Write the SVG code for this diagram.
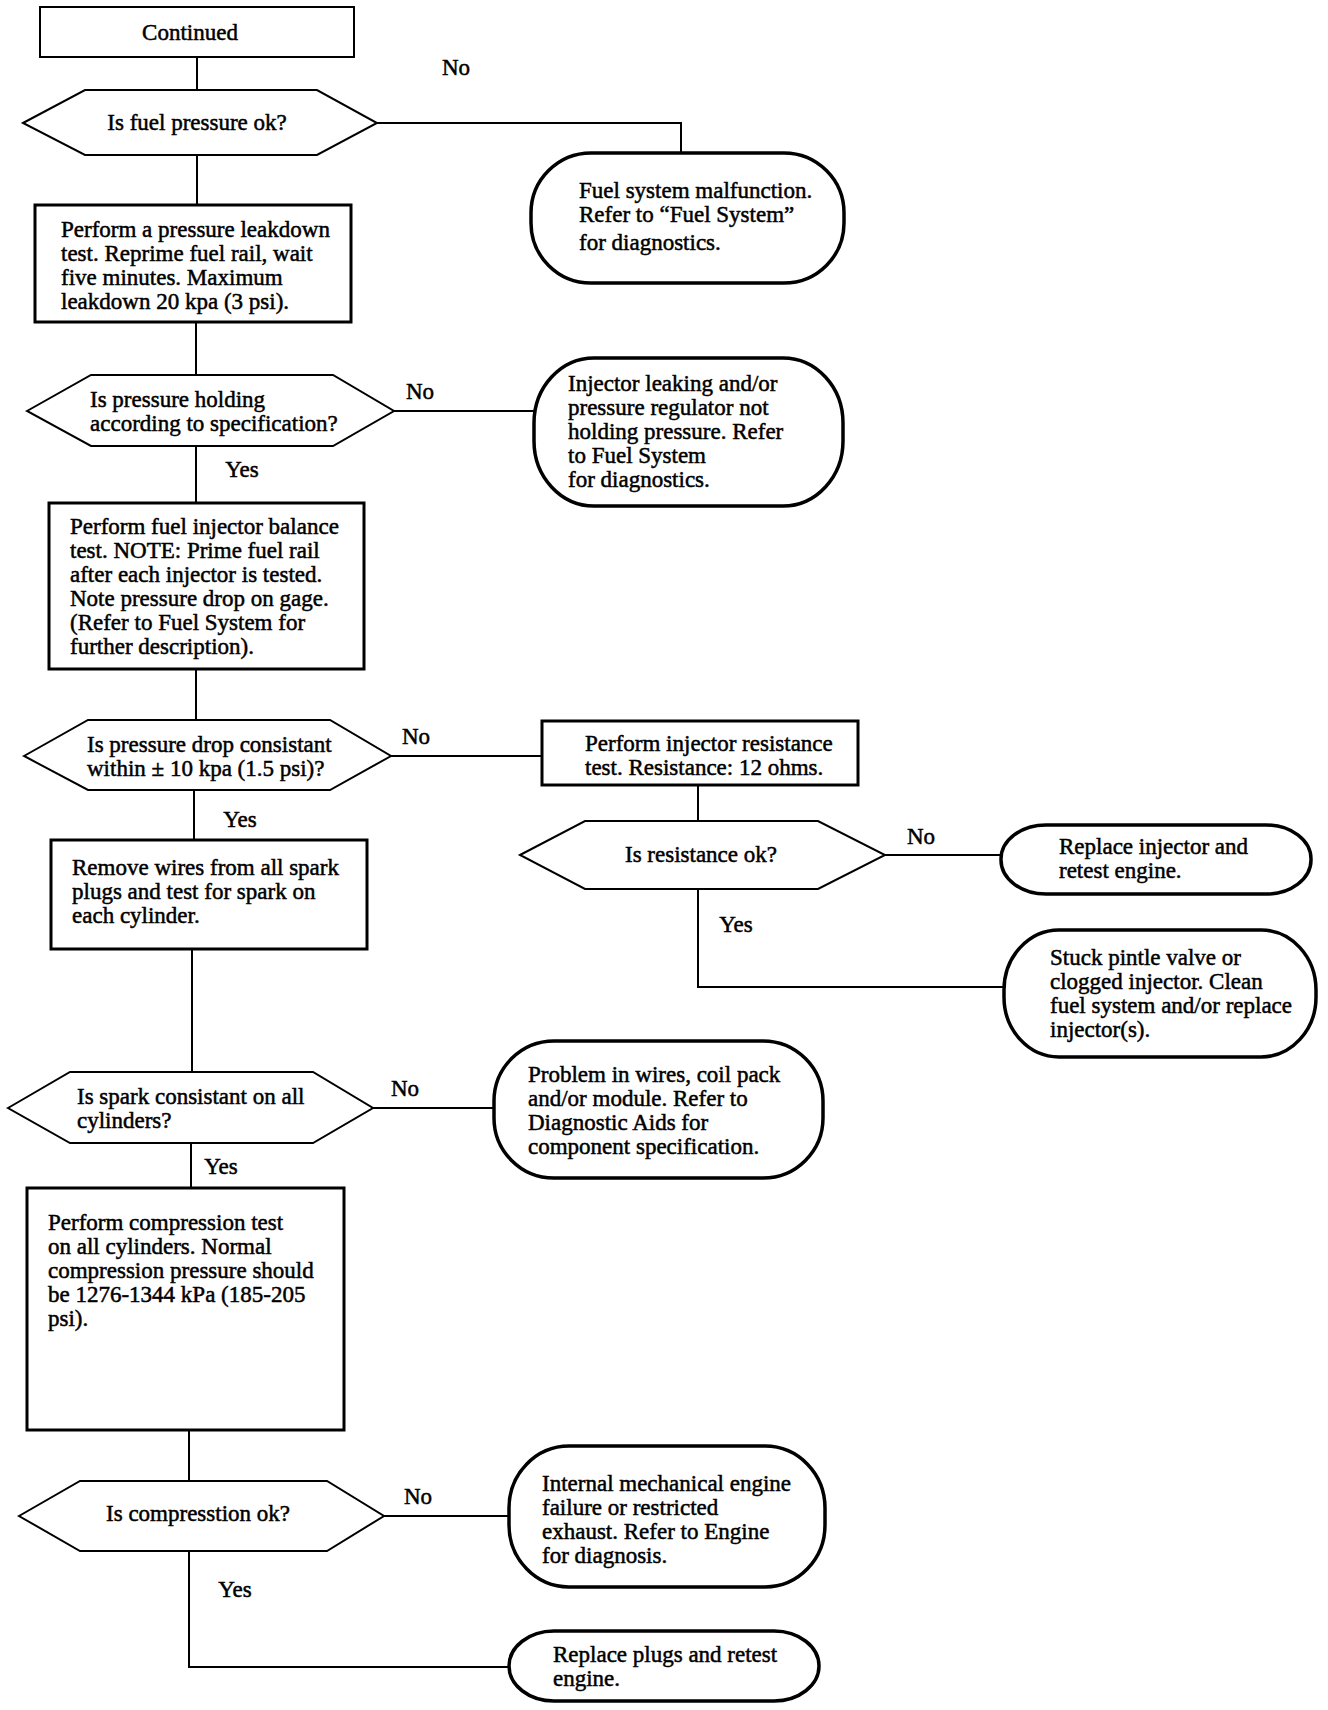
<svg xmlns="http://www.w3.org/2000/svg" width="1328" height="1710" viewBox="0 0 1328 1710">
<style>
text{font-family:"Liberation Serif","Times New Roman",serif;font-size:23px;fill:#000;stroke:#000;stroke-width:0.5}
.c{text-anchor:middle}
.box{fill:#fff;stroke:#000;stroke-width:3}
.thin{fill:#fff;stroke:#000;stroke-width:2}
.hex{fill:#fff;stroke:#000;stroke-width:2}
.rnd{fill:#fff;stroke:#000;stroke-width:3.5}
.con{fill:none;stroke:#000;stroke-width:2}
</style>
<rect width="1328" height="1710" fill="#fff"/>
<g id="connectors">
<path class="con" d="M197,57V90"/>
<path class="con" d="M197,155V205"/>
<path class="con" d="M377,123H681V153"/>
<path class="con" d="M196,322V375"/>
<path class="con" d="M394,411H534"/>
<path class="con" d="M196,446V503"/>
<path class="con" d="M196,669V720"/>
<path class="con" d="M391,756H542"/>
<path class="con" d="M698,785V821"/>
<path class="con" d="M885,855H1001"/>
<path class="con" d="M698,889V987H1004"/>
<path class="con" d="M194,790V840"/>
<path class="con" d="M192,949V1072"/>
<path class="con" d="M373,1108H494"/>
<path class="con" d="M191,1143V1188"/>
<path class="con" d="M189,1430V1481"/>
<path class="con" d="M384,1516H509"/>
<path class="con" d="M189,1551V1667H509"/>
<text class="c" x="456" y="75">No</text>
<text class="c" x="420" y="399">No</text>
<text class="c" x="242" y="477">Yes</text>
<text class="c" x="416" y="744">No</text>
<text class="c" x="240" y="827">Yes</text>
<text class="c" x="921" y="844">No</text>
<text class="c" x="736" y="932">Yes</text>
<text class="c" x="405" y="1096">No</text>
<text class="c" x="221" y="1174">Yes</text>
<text class="c" x="418" y="1504">No</text>
<text class="c" x="235" y="1597">Yes</text>
</g>
<g id="continued">
<rect class="thin" x="40" y="7" width="314" height="50"/>
<text class="c" x="190" y="40">Continued</text>
</g>
<g id="q-fuel-pressure">
<polygon class="hex" points="23,123 85,90 317,90 377,123 317,155 85,155"/>
<text class="c" x="197" y="130">Is fuel pressure ok?</text>
</g>
<g id="fuel-system-malfunction">
<rect class="rnd" x="531" y="153" width="313" height="130" rx="60" ry="60"/>
<text x="579" y="198">Fuel system malfunction.</text>
<text x="579" y="222">Refer to “Fuel System”</text>
<text x="579" y="250">for diagnostics.</text>
</g>
<g id="leakdown-test">
<rect class="box" x="35" y="205" width="316" height="117"/>
<text x="61" y="237">Perform a pressure leakdown</text>
<text x="61" y="261">test. Reprime fuel rail, wait</text>
<text x="61" y="285">five minutes. Maximum</text>
<text x="61" y="309">leakdown 20 kpa (3 psi).</text>
</g>
<g id="q-pressure-holding">
<polygon class="hex" points="27,411 91,375 333,375 394,411 333,446 91,446"/>
<text x="90" y="407">Is pressure holding</text>
<text x="90" y="431">according to specification?</text>
</g>
<g id="injector-leaking">
<rect class="rnd" x="534" y="358" width="309" height="148" rx="60" ry="65"/>
<text x="568" y="391">Injector leaking and/or</text>
<text x="568" y="415">pressure regulator not</text>
<text x="568" y="439">holding pressure. Refer</text>
<text x="568" y="463">to Fuel System</text>
<text x="568" y="487">for diagnostics.</text>
</g>
<g id="balance-test">
<rect class="box" x="49" y="503" width="315" height="166"/>
<text x="70" y="534">Perform fuel injector balance</text>
<text x="70" y="558">test. NOTE: Prime fuel rail</text>
<text x="70" y="582">after each injector is tested.</text>
<text x="70" y="606">Note pressure drop on gage.</text>
<text x="70" y="630">(Refer to Fuel System for</text>
<text x="70" y="654">further description).</text>
</g>
<g id="q-pressure-drop">
<polygon class="hex" points="24,756 88,720 330,720 391,756 330,790 88,790"/>
<text x="87" y="752">Is pressure drop consistant</text>
<text x="87" y="776">within ± 10 kpa (1.5 psi)?</text>
</g>
<g id="resistance-test">
<rect class="box" x="542" y="721" width="316" height="64"/>
<text x="585" y="751">Perform injector resistance</text>
<text x="585" y="775">test. Resistance: 12 ohms.</text>
</g>
<g id="q-resistance">
<polygon class="hex" points="520,855 585,821 818,821 885,855 818,889 585,889"/>
<text class="c" x="701" y="862">Is resistance ok?</text>
</g>
<g id="replace-injector">
<rect class="rnd" x="1001" y="825" width="310" height="69" rx="45" ry="34"/>
<text x="1059" y="854">Replace injector and</text>
<text x="1059" y="878">retest engine.</text>
</g>
<g id="stuck-pintle">
<rect class="rnd" x="1004" y="930" width="312" height="127" rx="55" ry="60"/>
<text x="1050" y="965">Stuck pintle valve or</text>
<text x="1050" y="989">clogged injector. Clean</text>
<text x="1050" y="1013">fuel system and/or replace</text>
<text x="1050" y="1037">injector(s).</text>
</g>
<g id="spark-test">
<rect class="box" x="51" y="840" width="316" height="109"/>
<text x="72" y="875">Remove wires from all spark</text>
<text x="72" y="899">plugs and test for spark on</text>
<text x="72" y="923">each cylinder.</text>
</g>
<g id="q-spark">
<polygon class="hex" points="8,1108 70,1072 313,1072 373,1108 313,1143 70,1143"/>
<text x="77" y="1104">Is spark consistant on all</text>
<text x="77" y="1128">cylinders?</text>
</g>
<g id="wires-problem">
<rect class="rnd" x="494" y="1041" width="329" height="137" rx="60" ry="60"/>
<text x="528" y="1082">Problem in wires, coil pack</text>
<text x="528" y="1106">and/or module. Refer to</text>
<text x="528" y="1130">Diagnostic Aids for</text>
<text x="528" y="1154">component specification.</text>
</g>
<g id="compression-test">
<rect class="box" x="27" y="1188" width="317" height="242"/>
<text x="48" y="1230">Perform compression test</text>
<text x="48" y="1254">on all cylinders. Normal</text>
<text x="48" y="1278">compression pressure should</text>
<text x="48" y="1302">be 1276-1344 kPa (185-205</text>
<text x="48" y="1326">psi).</text>
</g>
<g id="q-compression">
<polygon class="hex" points="19,1516 80,1481 327,1481 384,1516 327,1551 80,1551"/>
<text class="c" x="198" y="1521">Is compresstion ok?</text>
</g>
<g id="internal-failure">
<rect class="rnd" x="509" y="1446" width="316" height="141" rx="60" ry="62"/>
<text x="542" y="1491">Internal mechanical engine</text>
<text x="542" y="1515">failure or restricted</text>
<text x="542" y="1539">exhaust. Refer to Engine</text>
<text x="542" y="1563">for diagnosis.</text>
</g>
<g id="replace-plugs">
<rect class="rnd" x="509" y="1631" width="310" height="70" rx="45" ry="35"/>
<text x="553" y="1662">Replace plugs and retest</text>
<text x="553" y="1686">engine.</text>
</g>
</svg>
